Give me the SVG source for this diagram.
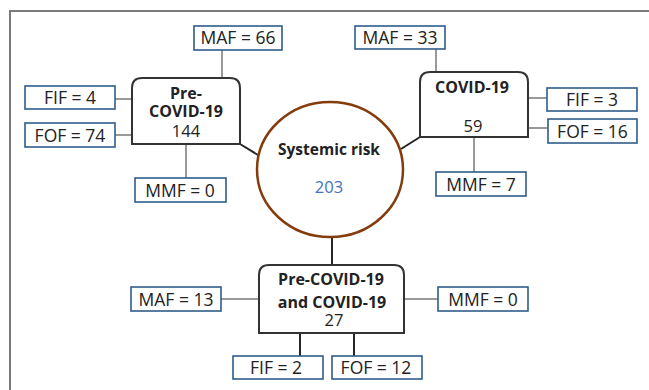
<svg xmlns="http://www.w3.org/2000/svg" width="649" height="390" viewBox="0 0 649 390">
<style>
.frame{fill:none;stroke:#7a7a7a;stroke-width:2}
.lbl rect{fill:#fff;stroke:#2f5d8a;stroke-width:1.6}
.lbl text{font-family:"Open Sans","Liberation Sans",sans-serif;font-size:17.5px;fill:#222;text-anchor:middle}
.node path{fill:#fff;stroke:#333;stroke-width:2}
.node text{font-family:"Open Sans","Liberation Sans",sans-serif;fill:#222;text-anchor:middle}
.b{font-weight:bold;font-size:16px}
.n{font-size:16.5px}
.g{stroke:#999;stroke-width:2;fill:none}
.d{stroke:#262626;stroke-width:2;fill:none}
</style>
<rect width="649" height="390" fill="#fff"/>
<path class="frame" d="M10,390 V11 H649"/>
<g id="connectors">
<line class="g" x1="222" y1="50" x2="222" y2="78"/>
<line class="g" x1="115" y1="99" x2="132" y2="99"/>
<line class="g" x1="115" y1="135" x2="132" y2="135"/>
<line class="g" x1="186" y1="144" x2="186" y2="178"/>
<line class="d" x1="240" y1="144" x2="258" y2="155"/>
<line class="g" x1="436" y1="49" x2="436" y2="72"/>
<line class="g" x1="528" y1="98" x2="547" y2="98"/>
<line class="g" x1="528" y1="128" x2="548" y2="128"/>
<line class="g" x1="474" y1="137" x2="474" y2="172"/>
<line class="d" x1="420" y1="137" x2="401" y2="149"/>
<line class="d" x1="332" y1="237" x2="332" y2="265"/>
<line class="g" x1="221" y1="299" x2="259" y2="299"/>
<line class="g" x1="404" y1="299" x2="438" y2="299"/>
<line class="d" x1="300" y1="333" x2="300" y2="356"/>
<line class="d" x1="354" y1="333" x2="354" y2="356"/>
</g>
<g id="systemic-risk">
<ellipse cx="330" cy="169.5" rx="73" ry="67.5" fill="#fff" stroke="#843c0c" stroke-width="2.5"/>
<text x="329" y="155" font-family="'Open Sans','Liberation Sans',sans-serif" font-weight="bold" font-size="15.5" fill="#222" text-anchor="middle">Systemic risk</text>
<text x="329" y="193" font-family="'Open Sans','Liberation Sans',sans-serif" font-size="16.5" fill="#4472c4" text-anchor="middle">203</text>
</g>
<g id="pre-covid" class="node">
<path d="M132,144 V88 Q132,78 142,78 H230 Q240,78 240,88 V144 Z"/>
<text class="b" x="186" y="99">Pre-</text>
<text class="b" x="186" y="117">COVID-19</text>
<text class="n" x="186" y="137">144</text>
</g>
<g id="covid" class="node">
<path d="M420,137 V82 Q420,72 430,72 H518 Q528,72 528,82 V137 Z"/>
<text class="b" x="472" y="93">COVID-19</text>
<text class="n" x="473" y="132">59</text>
</g>
<g id="pre-and-covid" class="node">
<path d="M259,333 V275 Q259,265 269,265 H394 Q404,265 404,275 V333 Z"/>
<text class="b" x="331" y="285">Pre-COVID-19</text>
<text class="b" x="332" y="308">and COVID-19</text>
<text class="n" x="334" y="326">27</text>
</g>
<g id="maf-66" class="lbl"><rect x="194" y="26" width="88" height="24"/><text x="238" y="44">MAF = 66</text></g>
<g id="fif-4" class="lbl"><rect x="25" y="86" width="90" height="23"/><text x="70" y="104">FIF = 4</text></g>
<g id="fof-74" class="lbl"><rect x="25" y="123" width="90" height="24"/><text x="70" y="141.5">FOF = 74</text></g>
<g id="mmf-0a" class="lbl"><rect x="135" y="178" width="91" height="24"/><text x="180" y="196.5">MMF = 0</text></g>
<g id="maf-33" class="lbl"><rect x="355" y="26" width="90" height="23"/><text x="400" y="43.5">MAF = 33</text></g>
<g id="fif-3" class="lbl"><rect x="547" y="88" width="90" height="23"/><text x="592" y="105.5">FIF = 3</text></g>
<g id="fof-16" class="lbl"><rect x="548" y="119" width="89" height="24"/><text x="592.5" y="137.5">FOF = 16</text></g>
<g id="mmf-7" class="lbl"><rect x="436" y="172" width="90" height="24"/><text x="481" y="190.5">MMF = 7</text></g>
<g id="maf-13" class="lbl"><rect x="131" y="287" width="90" height="24"/><text x="176" y="305.5">MAF = 13</text></g>
<g id="mmf-0b" class="lbl"><rect x="438" y="287" width="90" height="24"/><text x="483" y="305.5">MMF = 0</text></g>
<g id="fif-2" class="lbl"><rect x="233" y="356" width="90" height="23"/><text x="276" y="373.5">FIF = 2</text></g>
<g id="fof-12" class="lbl"><rect x="332" y="356" width="90" height="23"/><text x="376" y="373.5">FOF = 12</text></g>
</svg>
